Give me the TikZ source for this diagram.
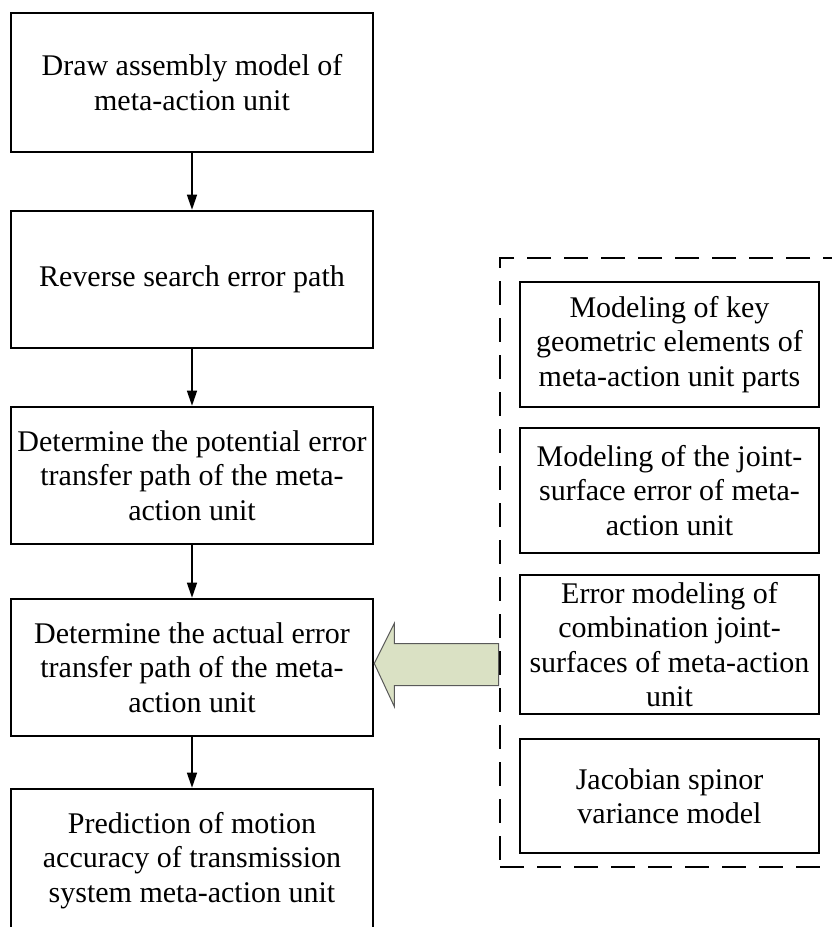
\documentclass[tikz,border=0pt]{standalone}
\usepackage{fontspec}
\setmainfont{Liberation Serif}
\usetikzlibrary{arrows.meta,calc}
\begin{document}
\begin{tikzpicture}[x=1pt,y=-1pt,
  stepbox/.style={draw=black,line width=2.6pt,align=center,inner sep=0pt,
    font=\fontsize{30}{34.5}\selectfont},
  mainbox/.style={stepbox,minimum width=362pt},
  sidebox/.style={stepbox,minimum width=299pt},
  flow/.style={line width=1.4pt,-{Triangle[length=15pt,width=10pt]}},
  frame/.style={draw=black,line width=2.6pt,dash pattern=on 24pt off 13pt},
  bigarrow/.style={draw=black!65,line width=1pt,fill={rgb,255:red,218;green,225;blue,196}}]
\useasboundingbox (0,0) rectangle (832,927);

% main flow
\node[mainbox,minimum height=139pt] (n1) at (192,82.5)
  {Draw assembly model of\\meta-action unit};
\node[mainbox,minimum height=137pt] (n2) at (192,279.5)
  {Reverse search error path};
\node[mainbox,minimum height=137pt] (n3) at (192,475.5)
  {Determine the potential error\\transfer path of the meta-\\action unit};
\node[mainbox,minimum height=137pt] (n4) at (192,667.5)
  {Determine the actual error\\transfer path of the meta-\\action unit};
\node[mainbox,minimum height=143pt] (n5) at (192,860.5)
  {Prediction of motion\\accuracy of transmission\\system meta-action unit};

\draw[flow] (n1) -- (n2);
\draw[flow] (n2) -- (n3);
\draw[flow] (n3) -- (n4);
\draw[flow] (n4) -- (n5);

% modelling methods group
\node[frame,minimum width=350pt,minimum height=609pt] (grp) at (675,562.5) {};
\node[sidebox,minimum height=125pt] (m1) at (669.5,344.5)
  {Modeling of key\\geometric elements of\\meta-action unit parts};
\node[sidebox,minimum height=125pt] (m2) at (669.5,490.5)
  {Modeling of the joint-\\surface error of meta-\\action unit};
\node[sidebox,minimum height=139pt] (m3) at (669.5,644.5)
  {Error modeling of\\combination joint-\\surfaces of meta-action\\unit};
\node[sidebox,minimum height=114pt] (m4) at (669.5,796)
  {Jacobian spinor\\variance model};

% block arrow feeding the group into the actual path step
\coordinate (tip) at ($(n4.east)+(0,-4)$);
\draw[bigarrow] (tip) -- ++(20,-40) -- ++(0,20) -- ($(grp.west |- tip)+(0,-20)$)
  -- ($(grp.west |- tip)+(0,22)$) -- ($(tip)+(20,22)$) -- ++(0,21) -- cycle;
\end{tikzpicture}
\end{document}
